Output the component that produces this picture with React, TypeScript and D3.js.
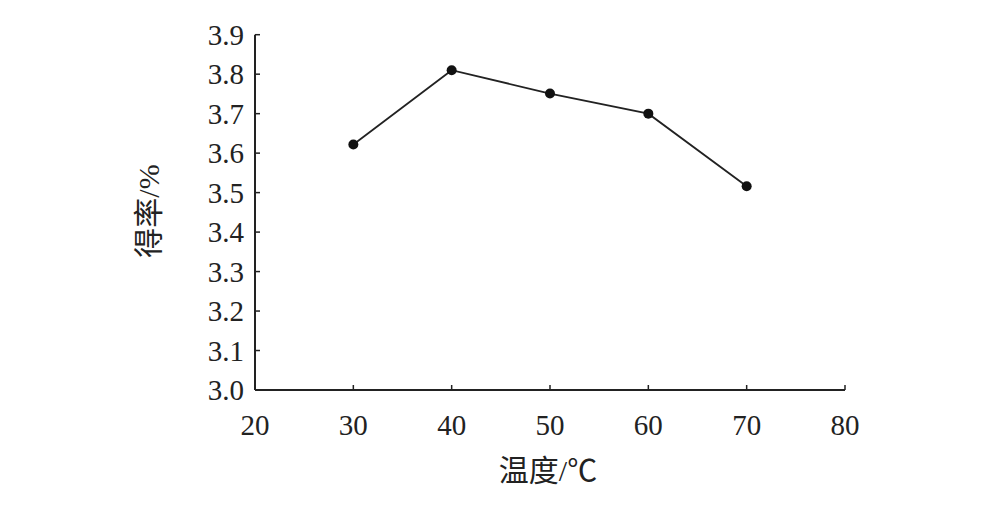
import React from "react";
import * as d3 from "d3";

const temperatures = [30, 40, 50, 60, 70];
const yields = [3.622, 3.81, 3.751, 3.7, 3.516];
const xTicks = [20, 30, 40, 50, 60, 70, 80];
const yTicks = [3.0, 3.1, 3.2, 3.3, 3.4, 3.5, 3.6, 3.7, 3.8, 3.9];
const xTitle = "温度/℃";
const yTitle = "得率/%";

export default function App() {
  const W = 997, H = 513;
  const x = d3.scaleLinear().domain([20, 80]).range([255, 845]);
  const y = d3.scaleLinear().domain([3.0, 3.9]).range([390, 34.7]);
  const line = d3.line<number>().x((_, i) => x(temperatures[i])).y((d) => y(d));
  const numFont = "'Liberation Serif', 'Times New Roman', serif";
  const cjkFont = "'Liberation Serif', 'Noto Sans CJK SC', serif";
  return (
    <svg width={W} height={H} style={{ position: "absolute", left: 0, top: 0, background: "#fff" }}>
      <rect width={W} height={H} fill="#fff" />
      <line x1={x(20)} x2={x(80)} y1={y(3.0)} y2={y(3.0)} stroke="#222" strokeWidth={2} />
      <line x1={x(20)} x2={x(20)} y1={y(3.0)} y2={y(3.9)} stroke="#222" strokeWidth={2} />
      {yTicks.map((t) => (
        <g key={"y" + t}>
          <line x1={x(20)} x2={x(20) + 5} y1={y(t)} y2={y(t)} stroke="#222" strokeWidth={1.5} />
          <text x={244} y={y(t)} dy="0.35em" textAnchor="end" fontFamily={numFont} fontSize={29} fill="#222">
            {t.toFixed(1)}
          </text>
        </g>
      ))}
      {xTicks.map((t) => (
        <g key={"x" + t}>
          <line x1={x(t)} x2={x(t)} y1={y(3.0)} y2={y(3.0) - 5} stroke="#222" strokeWidth={1.5} />
          <text x={x(t)} y={425} dy="0.35em" textAnchor="middle" fontFamily={numFont} fontSize={29} fill="#222">
            {t}
          </text>
        </g>
      ))}
      <text x={548} y={470} dy="0.35em" textAnchor="middle" fontFamily={cjkFont} fontSize={30} fill="#222">
        {xTitle}
      </text>
      <text
        transform={`translate(148,211) rotate(-90)`}
        dy="0.35em"
        textAnchor="middle"
        fontFamily={cjkFont}
        fontSize={30}
        fill="#222"
      >
        {yTitle}
      </text>
      <path d={line(yields) || ""} fill="none" stroke="#222" strokeWidth={1.8} />
      {yields.map((v, i) => (
        <circle key={i} cx={x(temperatures[i])} cy={y(v)} r={5} fill="#111" />
      ))}
    </svg>
  );
}
